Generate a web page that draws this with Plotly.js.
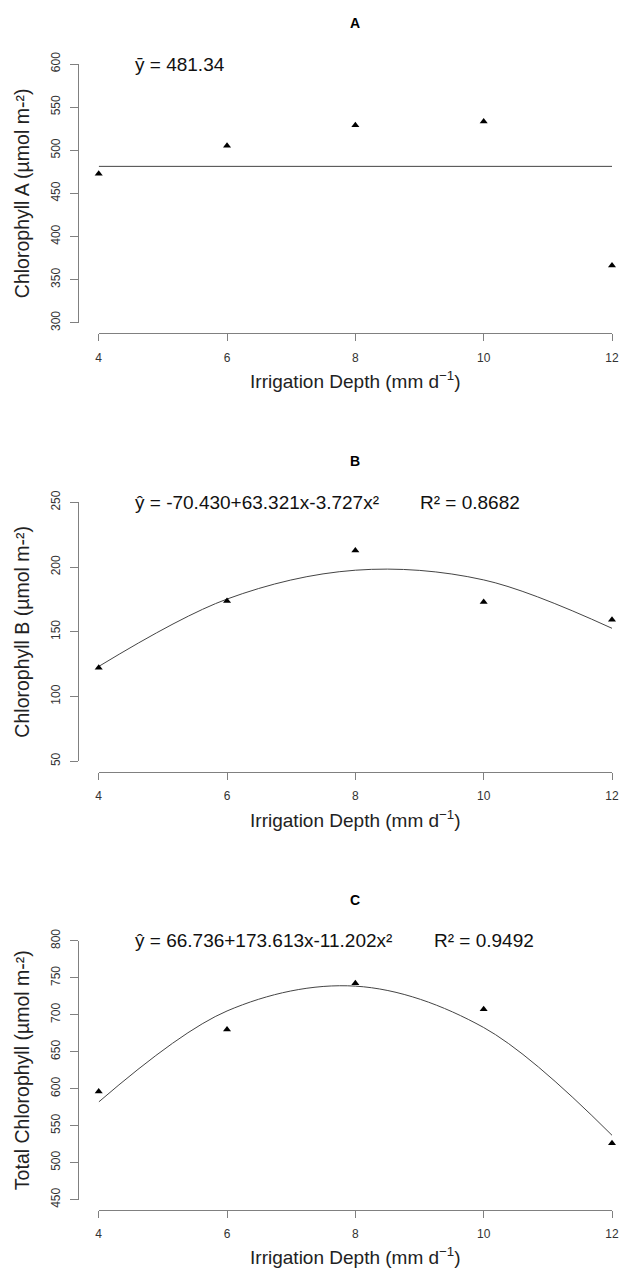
<!DOCTYPE html>
<html><head><meta charset="utf-8">
<script src="https://cdn.plot.ly/plotly-3.0.1.min.js"></script>
<style>html,body{margin:0;padding:0;background:#fff}</style>
</head><body><div id="chart" style="width:620px;height:1268px"></div>
<script>
// ---- data ----
const irrigationDepth = [4, 6, 8, 10, 12];
const xTickVals = [4, 6, 8, 10, 12];
const chlA = [472.8, 505.2, 529.1, 533.3, 366.3];
const chlAMean = 481.34;
const chlB = [122.3, 173.8, 212.8, 173.0, 159.4];
const chlBFit = [123.2, 175.3, 197.6, 190.1, 152.7];
const chlTotal = [596.3, 679.9, 742.7, 707.5, 526.3];
const chlTotalFit = [582.0, 705.1, 738.7, 682.7, 537.0];
const yTicksA = [300, 350, 400, 450, 500, 550, 600];
const yTicksB = [50, 100, 150, 200, 250];
const yTicksC = [450, 500, 550, 600, 650, 700, 750, 800];
const panelTitles = ['A', 'B', 'C'];
const yTitles = ['Chlorophyll A (µmol m-²)', 'Chlorophyll B (µmol m-²)', 'Total Chlorophyll (µmol m-²)'];
const xTitle = 'Irrigation Depth (mm d<sup>−1</sup>)';
const equations = ['ȳ = 481.34', 'ŷ = -70.430+63.321x-3.727x²', 'ŷ = 66.736+173.613x-11.202x²'];
const r2Labels = ['', 'R² = 0.8682', 'R² = 0.9492'];

// ---- layout geometry ----
const W = 620, H = 1268;
const FONT = 'Liberation Sans, Arial, sans-serif';
const xDomain = [98.7 / W, 612 / W];
const yAxisPos = 78.3 / W;
const panelTops = [64.0, 502.4, 940.8];
const spanH = 258.8;
const xGap = 10.4;
const yTickSets = [yTicksA, yTicksB, yTicksC];

const markerStyle = {symbol: 'triangle-up', size: 7, color: '#000'};
const lineStyle = {color: '#444', width: 1};

const traces = [
  {x: [irrigationDepth[0], irrigationDepth[irrigationDepth.length - 1]], y: [chlAMean, chlAMean],
   mode: 'lines', line: lineStyle, xaxis: 'x', yaxis: 'y', showlegend: false, hoverinfo: 'skip'},
  {x: irrigationDepth, y: chlA, mode: 'markers', marker: markerStyle, cliponaxis: false,
   xaxis: 'x', yaxis: 'y', showlegend: false},
  {x: irrigationDepth, y: chlBFit, mode: 'lines', line: Object.assign({shape: 'spline'}, lineStyle),
   xaxis: 'x2', yaxis: 'y2', showlegend: false, hoverinfo: 'skip'},
  {x: irrigationDepth, y: chlB, mode: 'markers', marker: markerStyle, cliponaxis: false,
   xaxis: 'x2', yaxis: 'y2', showlegend: false},
  {x: irrigationDepth, y: chlTotalFit, mode: 'lines', line: Object.assign({shape: 'spline'}, lineStyle),
   xaxis: 'x3', yaxis: 'y3', showlegend: false, hoverinfo: 'skip'},
  {x: irrigationDepth, y: chlTotal, mode: 'markers', marker: markerStyle, cliponaxis: false,
   xaxis: 'x3', yaxis: 'y3', showlegend: false}
];

const layout = {
  width: W, height: H,
  margin: {l: 0, r: 0, t: 0, b: 0},
  paper_bgcolor: '#fff', plot_bgcolor: '#fff',
  font: {family: FONT, color: '#222'},
  showlegend: false,
  annotations: []
};

for (let i = 0; i < 3; i++) {
  const sfx = i === 0 ? '' : String(i + 1);
  const top = panelTops[i];
  const ticks = yTickSets[i];
  const yDom = [1 - (top + spanH) / H, 1 - top / H];
  layout['xaxis' + sfx] = {
    domain: xDomain, range: [xTickVals[0], xTickVals[xTickVals.length - 1]],
    anchor: 'free', position: 1 - (top + spanH + xGap) / H,
    showline: true, linecolor: '#808080', linewidth: 1,
    ticks: 'outside', ticklen: 7, tickwidth: 1, tickcolor: '#808080',
    tickmode: 'array', tickvals: xTickVals, ticktext: xTickVals.map(String),
    ticklabelstandoff: 6,
    tickfont: {family: FONT, size: 12, color: '#333'},
    showgrid: false, zeroline: false, automargin: false, fixedrange: true,
    title: {text: xTitle, font: {family: FONT, size: 19, color: '#222'}, standoff: 11}
  };
  layout['yaxis' + sfx] = {
    domain: yDom, range: [ticks[0], ticks[ticks.length - 1]],
    anchor: 'free', position: yAxisPos,
    showline: true, linecolor: '#808080', linewidth: 1,
    ticks: 'outside', ticklen: 8, tickwidth: 1, tickcolor: '#808080',
    tickmode: 'array', tickvals: ticks, ticktext: ticks.map(String), tickangle: -90,
    ticklabelstandoff: 6,
    tickfont: {family: FONT, size: 12, color: '#333'},
    showgrid: false, zeroline: false, automargin: false, fixedrange: true,
    title: {text: yTitles[i], font: {family: FONT, size: 19.5, color: '#222'}, standoff: 12}
  };
  layout.annotations.push({
    text: panelTitles[i], xref: 'paper', yref: 'paper',
    x: (xDomain[0] + xDomain[1]) / 2, y: 1 - (top - 41) / H,
    xanchor: 'center', yanchor: 'middle', showarrow: false,
    font: {family: FONT, size: 14, color: '#000', weight: 'bold'}
  });
  layout.annotations.push({
    text: equations[i], xref: 'x' + sfx, yref: 'y' + sfx,
    x: 4.53, y: ticks[ticks.length - 1],
    xanchor: 'left', yanchor: 'middle', showarrow: false,
    font: {family: FONT, size: 19, color: '#111'}
  });
  if (r2Labels[i]) {
    layout.annotations.push({
      text: r2Labels[i], xref: 'x' + sfx, yref: 'y' + sfx,
      x: i === 1 ? 8.97 : 9.2, y: ticks[ticks.length - 1],
      xanchor: 'left', yanchor: 'middle', showarrow: false,
      font: {family: FONT, size: 19, color: '#111'}
    });
  }
}

Plotly.newPlot('chart', traces, layout, {staticPlot: true, displayModeBar: false});
</script>
</body></html>
